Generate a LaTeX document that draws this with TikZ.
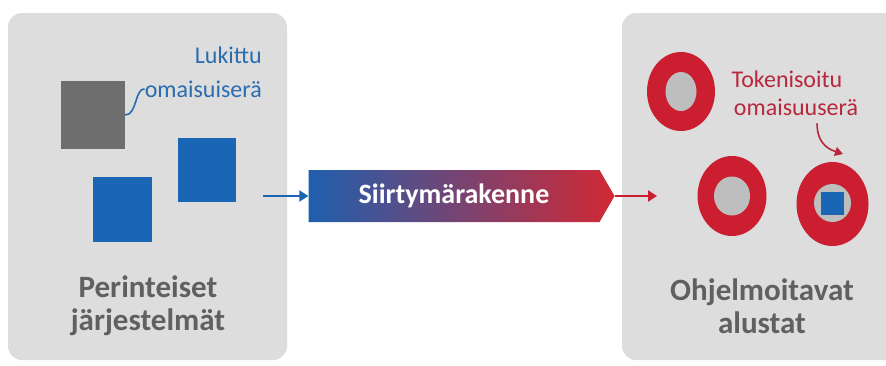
\documentclass[tikz,border=0pt]{standalone}
\usepackage{fontspec}
\setmainfont{Carlito}
\usetikzlibrary{arrows.meta,shapes.geometric,shapes.symbols}

\definecolor{panelgray}{RGB}{221,221,221}
\definecolor{assetgray}{RGB}{110,110,110}
\definecolor{assetblue}{RGB}{27,101,181}
\definecolor{labelblue}{RGB}{42,108,176}
\definecolor{ringred}{RGB}{203,30,48}
\definecolor{labelred}{RGB}{184,40,60}
\definecolor{holegray}{RGB}{190,190,190}
\definecolor{headgray}{RGB}{96,96,96}
\definecolor{bridgeblue}{RGB}{31,95,174}
\definecolor{bridgered}{RGB}{210,40,52}

\begin{document}
\begin{tikzpicture}[
    x=1pt,y=-1pt,
    panel/.style={fill=panelgray,rounded corners=14pt},
    asset/.style={rectangle,inner sep=0pt},
    ring/.style={ellipse,fill=ringred,inner sep=0pt},
    hole/.style={ellipse,fill=holegray,inner sep=0pt},
    heading/.style={align=center,text=headgray,font=\fontsize{31}{33}\selectfont\bfseries},
    tag/.style={inner sep=0pt,font=\fontsize{24}{28}\selectfont},
    flowarrow/.style={line width=2.4pt,-{Triangle[length=9pt,width=11pt]}}]

  \useasboundingbox[fill=white] (0,0) rectangle (886,365);

  \fill[panel] (8,13) rectangle (287,360);
  \fill[panel] (622,13) rectangle (902,360);

  \node[asset,fill=assetgray,minimum width=64pt,minimum height=68pt] (lockbox) at (93,115) {};
  \node[asset,fill=assetblue,minimum width=59pt,minimum height=65pt] (legacyA) at (122.5,209.5) {};
  \node[asset,fill=assetblue,minimum width=58pt,minimum height=64pt] (legacyB) at (207,170) {};

  \node[tag,text=labelblue,anchor=base east] (lockA) at (262,63) {Lukittu};
  \node[tag,text=labelblue,anchor=base east] (lockB) at (262,97) {omaisuiserä};
  \draw[labelblue,line width=1.6pt]
    (lockbox.east) .. controls +(12,0) and +(-10,0) .. (lockB.west);

  \node[heading] (legacy) at (148,306) {Perinteiset\\järjestelmät};
  \node[heading] (programmable) at (762,306) {Ohjelmoitavat\\alustat};

  \node[signal,signal to=east,signal pointer angle=120,
    minimum width=306pt,minimum height=52pt,inner sep=0pt,
    left color=bridgeblue,right color=bridgered,middle color=bridgeblue!50!bridgered,
    text=white,font=\fontsize{28}{30}\selectfont\bfseries] (bridge) at (454,196) {Siirtymärakenne};

  \coordinate (feedin) at (263,196);
  \coordinate (feedout) at (657,196);
  \draw[flowarrow,assetblue] (feedin) -- (bridge.west);
  \draw[flowarrow,ringred] (bridge.east) -- (feedout);

  \node[ring,minimum width=68pt,minimum height=79pt] (ringA) at (681,91.5) {};
  \node[hole,minimum width=31pt,minimum height=39pt] (holeA) at (ringA) {};
  \node[ring,minimum width=69pt,minimum height=80pt] (ringB) at (732,196) {};
  \node[hole,minimum width=36pt,minimum height=39pt] (holeB) at (ringB) {};
  \node[ring,minimum width=72pt,minimum height=84pt] (ringC) at (832.5,204) {};
  \node[hole,minimum width=37pt,minimum height=38pt] (holeC) at (832.5,203) {};
  \node[asset,fill=assetblue,minimum size=23pt] (token) at (holeC) {};

  \node[tag,text=labelred,anchor=base] (tokA) at (787,87) {Tokenisoitu};
  \node[tag,text=labelred,anchor=base] (tokB) at (796,115) {omaisuuserä};
  \coordinate (tokTip) at (843,154);
  \draw[labelred,line width=1.6pt,-{Triangle[length=8pt,width=9pt]}]
    ([shift={(21,8)}]tokB.south) .. controls +(0,22) and +(-12,-4) .. (tokTip);
\end{tikzpicture}
\end{document}
